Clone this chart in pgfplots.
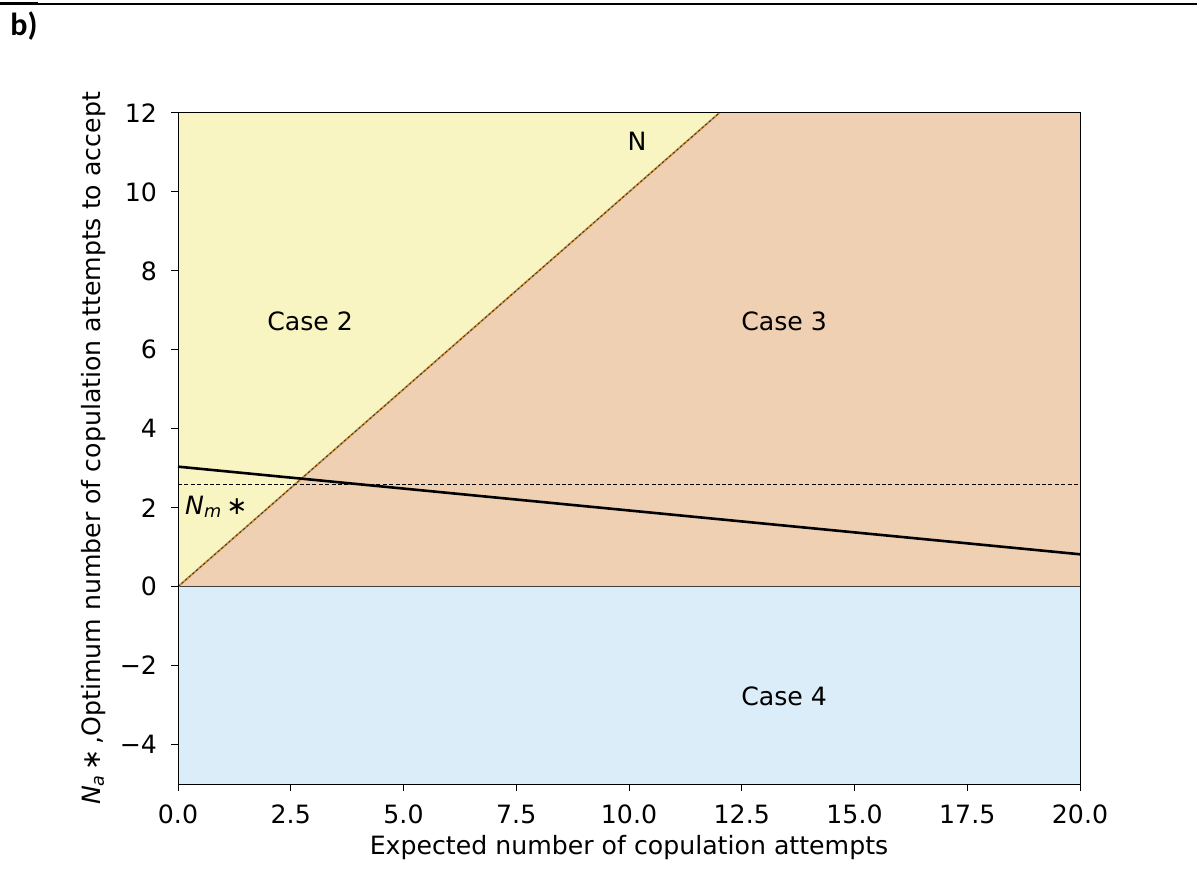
\documentclass[border=0pt]{standalone}
\usepackage{fontspec}
\setmainfont{DejaVu Sans}
\newfontfamily\carlito{Carlito}
\usepackage{pgfplots}
\pgfplotsset{compat=1.18}
\definecolor{caseyellow}{RGB}{248,245,195}
\definecolor{casepeach}{RGB}{239,208,178}
\definecolor{caseblue}{RGB}{220,237,250}
\definecolor{edgeorange}{RGB}{200,140,60}
\begin{document}
\begin{tikzpicture}
\path[use as bounding box] (0,0) rectangle (598.5pt,434pt);
\draw[line width=0.7pt] (0,432pt) -- (598.5pt,432pt);
\draw[line width=1.2pt] (0,432.6pt) -- (19pt,432.6pt);
\node[anchor=base west, inner sep=0pt, font=\carlito\bfseries\fontsize{16}{18}\selectfont] at (5pt,416pt) {b)};
\begin{axis}[
  at={(89pt,42pt)}, anchor=south west,
  scale only axis, width=451pt, height=335.5pt,
  xmin=0, xmax=20, ymin=-5, ymax=12,
  clip=false,
  axis line style={line width=0.5pt},
  tick pos=left,
  tick align=outside,
  major tick length=3.5pt,
  every major tick/.append style={draw=black, line width=0.5pt},
  xtick={0,2.5,...,20},
  xticklabels={0.0,2.5,5.0,7.5,10.0,12.5,15.0,17.5,20.0},
  ytick={-4,-2,...,12},
  yticklabels={−4,−2,0,2,4,6,8,10,12},
  xticklabel style={yshift=-3.5pt},
  yticklabel style={xshift=-3.5pt},
  tick label style={font=\fontsize{12.6}{14}\selectfont},
  every axis label/.append style={font=\fontsize{12.6}{14}\selectfont},
  xlabel={Expected number of copulation attempts},
  ylabel={\textit{N}\textsubscript{\textit{a}}\,∗\,,Optimum number of copulation attempts to accept},
  xlabel style={at={(axis description cs:0.5,-0.095)}, anchor=center},
  ylabel style={at={(axis description cs:-0.094,0.5)}, anchor=center, rotate=0},
]
\addplot[fill=caseblue, draw=none] coordinates {(0,-5) (20,-5) (20,0) (0,0)} -- cycle;
\addplot[fill=casepeach, draw=none] coordinates {(0,0) (12,12) (20,12) (20,0)} -- cycle;
\addplot[fill=caseyellow, draw=none] coordinates {(0,0) (0,12) (12,12)} -- cycle;
\addplot[black!75, line width=0.5pt] coordinates {(0,0) (20,0)};
\addplot[edgeorange, line width=0.9pt] coordinates {(0,0) (12,12)};
\addplot[black!80, line width=0.4pt, dash pattern=on 1.2pt off 1.2pt] coordinates {(0,0) (12,12)};
\addplot[black, line width=0.4pt, dash pattern=on 2pt off 1.2pt] coordinates {(0,2.6) (20,2.6)};
\addplot[black, line width=1.3pt] coordinates {(0,3.04) (20,0.82)};
\draw[black, line width=0.5pt] (rel axis cs:0,0) rectangle (rel axis cs:1,1);
\pgfplotsinvokeforeach{0,2.5,5,7.5,10,12.5,15,17.5,20}{
  \draw[black, line width=0.5pt] (axis cs:#1,-5) -- ++(0pt,-3.5pt);
}
\pgfplotsinvokeforeach{-4,-2,0,2,4,6,8,10,12}{
  \draw[black, line width=0.5pt] (axis cs:0,#1) -- ++(-3.5pt,0pt);
}
\node[font=\fontsize{12.6}{14}\selectfont] at (axis cs:2.93,6.73) {Case 2};
\node[font=\fontsize{12.6}{14}\selectfont] at (axis cs:13.44,6.73) {Case 3};
\node[font=\fontsize{12.6}{14}\selectfont] at (axis cs:13.44,-2.78) {Case 4};
\node[font=\fontsize{12.6}{14}\selectfont] at (axis cs:10.18,11.27) {N};
\node[font=\fontsize{12.6}{14}\selectfont] at (axis cs:0.85,2.02) {\textit{N}\textsubscript{\textit{m}}\,∗};
\end{axis}
\end{tikzpicture}
\end{document}
